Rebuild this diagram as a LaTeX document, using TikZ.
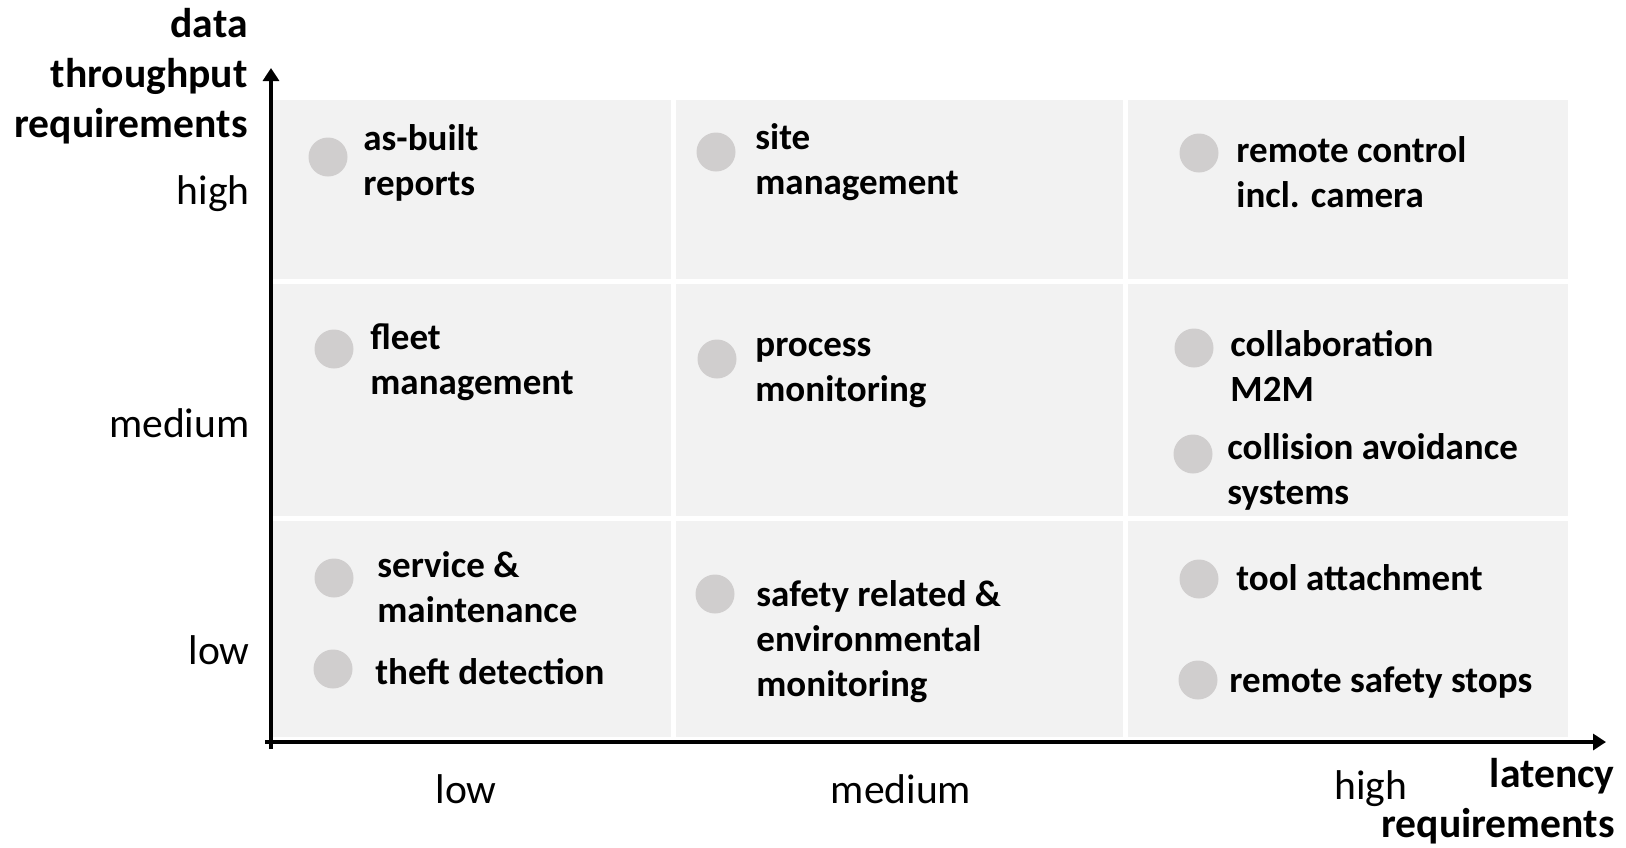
\documentclass[tikz,border=0pt]{standalone}
\usepackage{fontspec}
\setmainfont{Carlito}
\usetikzlibrary{arrows.meta}
\definecolor{cellgray}{HTML}{F2F2F2}
\definecolor{dotgray}{HTML}{D0CECE}

\begin{document}
\begin{tikzpicture}[x=0.5pt, y=-0.5pt, font=\fontsize{20.8}{25}\selectfont,
  axis/.style={line width=2pt, -{Triangle[length=6.5pt,width=8pt]}},
  dot/.style={circle, fill=dotgray, minimum size=19.5pt, inner sep=0pt},
  lab/.style={inner sep=0pt},
  item/.style={anchor=west, align=left, inner sep=0pt, font=\fontsize{18.5}{22.5}\selectfont\bfseries}]

  \useasboundingbox (0,0) rectangle (1626,847);

  \foreach \xa/\xb in {273/671, 676/1123, 1128/1568}
    \foreach \ya/\yb in {100/279, 284/516, 521/737}
      \fill [cellgray] (\xa,\ya) rectangle (\xb,\yb);

  \coordinate (o) at (271,749);
  \coordinate (ytip) at (271,68);
  \coordinate (xo) at (265,742);
  \coordinate (xtip) at (1606,742);
  \draw [axis] (o) -- (ytip);
  \draw [axis] (xo) -- (xtip);

  \foreach [count=\i] \y/\t in {194/high, 423/medium, 650/low}
    \node [lab, anchor=east] (ylab\i) at (250,\y) {\t};
  \foreach [count=\i] \x/\t in {466/low, 901/medium, 1371/high}
    \node [lab] (xlab\i) at (\x,789) {\t};

  \node [lab, anchor=east, align=right, font=\fontsize{20.8}{25}\selectfont\bfseries]
    (ytitle) at (248,76) {data\\throughput\\requirements};
  \node [lab, anchor=east, align=right, font=\fontsize{20.8}{25}\selectfont\bfseries]
    (xtitle) at (1615,801) {latency\\requirements};

  \foreach [count=\i] \cx/\cy/\tx/\ty/\t in {
      328/157/363/163/{as-built\\reports},
      716/152/755/162/{site\\management},
      1199/153/1236/172/{remote control\\incl. camera},
      334/349/370/362/{fleet\\management},
      717/359/755/373/{process\\monitoring},
      1194/348/1230/366/{collaboration\\M2M},
      1193/454/1227/472/{collision avoidance\\systems},
      334/578/377/587/{service \&\\maintenance},
      333/669/375/672/{theft detection},
      715/594/756/642/{safety related \&\\environmental\\monitoring},
      1199/579/1236/578/{tool attachment},
      1198/680/1229/683/{remote safety stops}}
  {
    \node [dot] (d\i) at (\cx,\cy) {};
    \node [item] (t\i) at (\tx,\ty) {\t};
  }
\end{tikzpicture}
\end{document}
